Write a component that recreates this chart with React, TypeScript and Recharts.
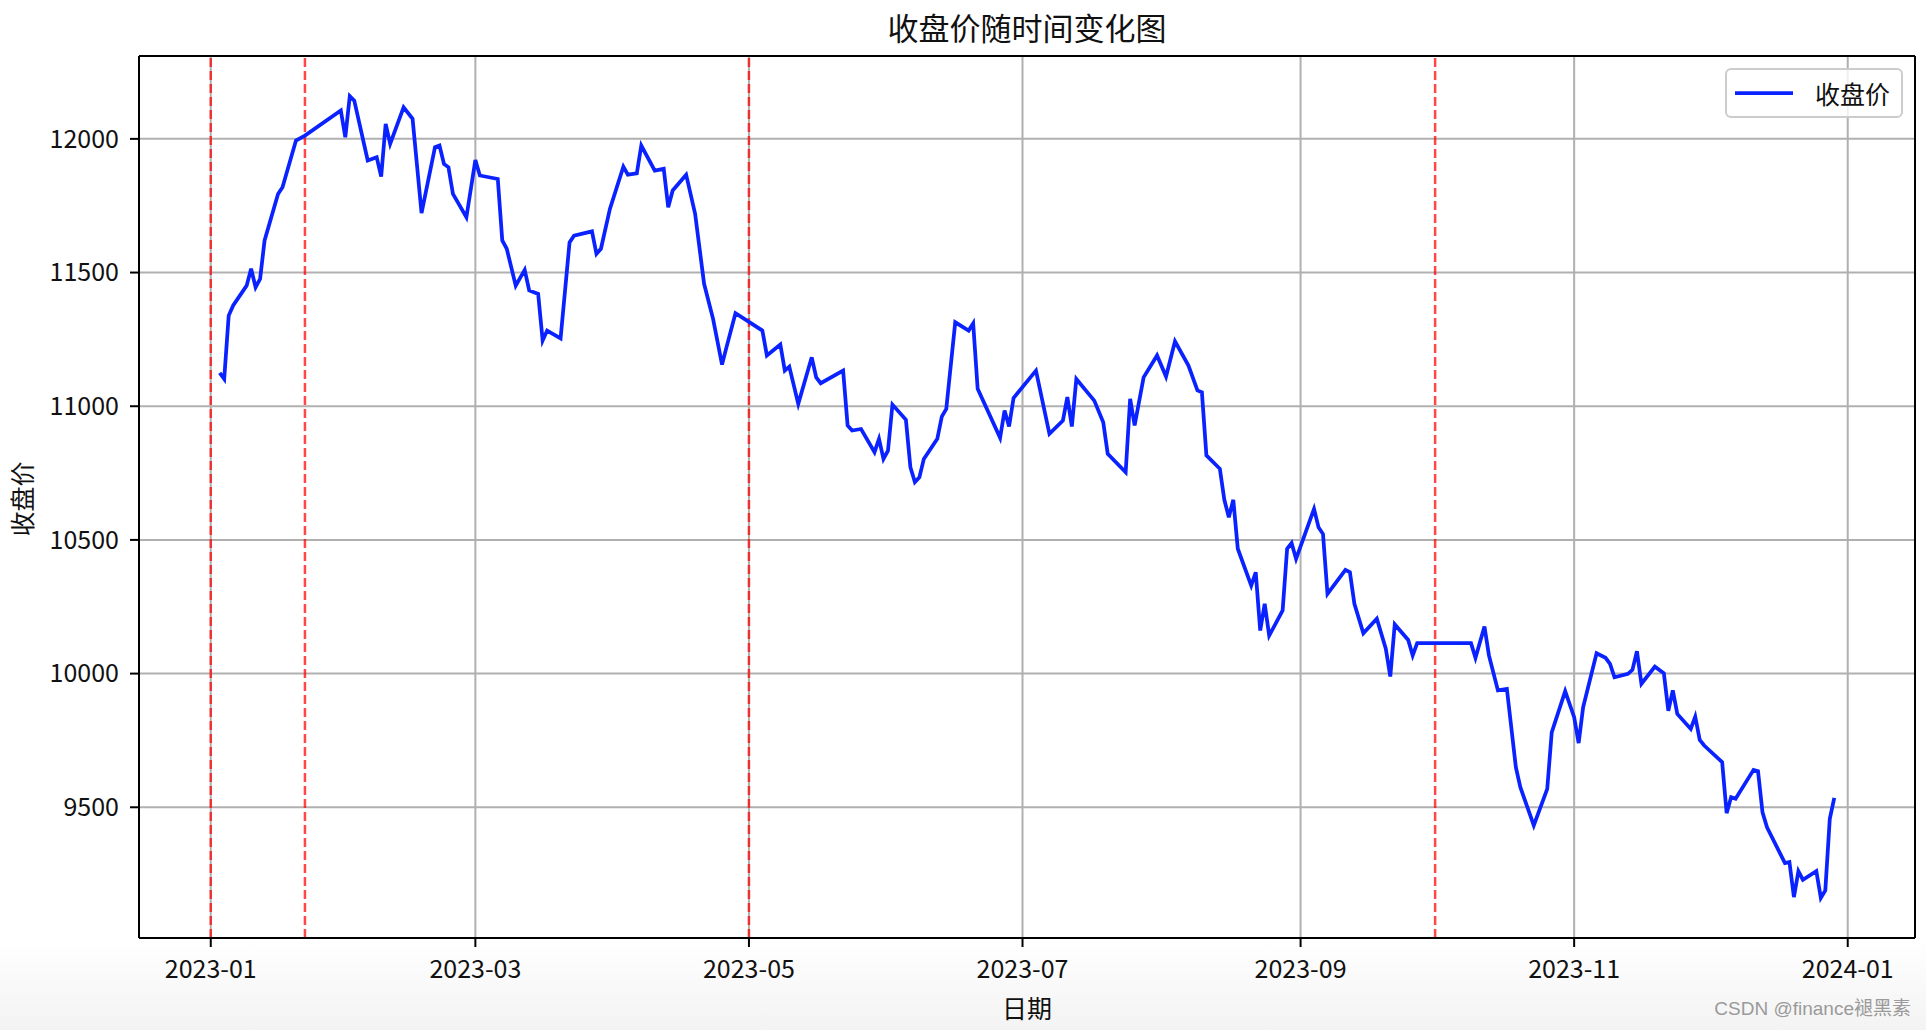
import React from 'react';
import { LineChart, Line, XAxis, YAxis, CartesianGrid, ReferenceLine, Legend } from 'recharts';

// ---- data ----
const dates = [
  '2023-01-03', '2023-01-04', '2023-01-05', '2023-01-06', '2023-01-09', '2023-01-10', '2023-01-11', '2023-01-12',
  '2023-01-13', '2023-01-16', '2023-01-17', '2023-01-20', '2023-01-22', '2023-01-30', '2023-01-31', '2023-02-01',
  '2023-02-02', '2023-02-05', '2023-02-07', '2023-02-08', '2023-02-09', '2023-02-10', '2023-02-13', '2023-02-15',
  '2023-02-17', '2023-02-20', '2023-02-21', '2023-02-22', '2023-02-23', '2023-02-24', '2023-02-27', '2023-03-01',
  '2023-03-02', '2023-03-06', '2023-03-07', '2023-03-08', '2023-03-10', '2023-03-12', '2023-03-13', '2023-03-15',
  '2023-03-16', '2023-03-17', '2023-03-20', '2023-03-21', '2023-03-22', '2023-03-23', '2023-03-27', '2023-03-28',
  '2023-03-29', '2023-03-31', '2023-04-03', '2023-04-04', '2023-04-06', '2023-04-07', '2023-04-10', '2023-04-12',
  '2023-04-13', '2023-04-14', '2023-04-17', '2023-04-19', '2023-04-21', '2023-04-23', '2023-04-25', '2023-04-26',
  '2023-04-28', '2023-05-04', '2023-05-05', '2023-05-08', '2023-05-09', '2023-05-10', '2023-05-12', '2023-05-15',
  '2023-05-16', '2023-05-17', '2023-05-22', '2023-05-23', '2023-05-24', '2023-05-26', '2023-05-29', '2023-05-30',
  '2023-05-31', '2023-06-01', '2023-06-02', '2023-06-05', '2023-06-06', '2023-06-07', '2023-06-08', '2023-06-09',
  '2023-06-12', '2023-06-13', '2023-06-14', '2023-06-16', '2023-06-19', '2023-06-20', '2023-06-21', '2023-06-26',
  '2023-06-27', '2023-06-28', '2023-06-29', '2023-07-04', '2023-07-07', '2023-07-10', '2023-07-11', '2023-07-12',
  '2023-07-13', '2023-07-17', '2023-07-19', '2023-07-20', '2023-07-24', '2023-07-25', '2023-07-26', '2023-07-28',
  '2023-07-31', '2023-08-02', '2023-08-04', '2023-08-07', '2023-08-09', '2023-08-10', '2023-08-11', '2023-08-14',
  '2023-08-15', '2023-08-16', '2023-08-17', '2023-08-18', '2023-08-21', '2023-08-22', '2023-08-23', '2023-08-24',
  '2023-08-25', '2023-08-28', '2023-08-29', '2023-08-30', '2023-08-31', '2023-09-04', '2023-09-05', '2023-09-06',
  '2023-09-07', '2023-09-11', '2023-09-12', '2023-09-13', '2023-09-15', '2023-09-18', '2023-09-20', '2023-09-21',
  '2023-09-22', '2023-09-25', '2023-09-26', '2023-09-27', '2023-10-09', '2023-10-10', '2023-10-12', '2023-10-13',
  '2023-10-15', '2023-10-17', '2023-10-19', '2023-10-20', '2023-10-23', '2023-10-26', '2023-10-27', '2023-10-30',
  '2023-11-01', '2023-11-02', '2023-11-03', '2023-11-06', '2023-11-08', '2023-11-09', '2023-11-10', '2023-11-13',
  '2023-11-14', '2023-11-15', '2023-11-16', '2023-11-19', '2023-11-21', '2023-11-22', '2023-11-23', '2023-11-24',
  '2023-11-27', '2023-11-28', '2023-11-29', '2023-11-30', '2023-12-04', '2023-12-05', '2023-12-06', '2023-12-07',
  '2023-12-11', '2023-12-12', '2023-12-13', '2023-12-14', '2023-12-18', '2023-12-19', '2023-12-20', '2023-12-21',
  '2023-12-22', '2023-12-25', '2023-12-26', '2023-12-27', '2023-12-28', '2023-12-29',
];

const closes = [
  11125, 11102, 11339, 11377, 11451, 11514, 11445, 11476,
  11620, 11794, 11819, 11994, 12012, 12106, 12006, 12160,
  12143, 11919, 11931, 11859, 12056, 11981, 12118, 12075,
  11722, 11969, 11975, 11906, 11894, 11794, 11707, 11921,
  11863, 11850, 11620, 11589, 11451, 11510, 11433, 11420,
  11246, 11283, 11254, 11433, 11613, 11638, 11654, 11570,
  11589, 11738, 11896, 11866, 11871, 11975, 11881, 11888,
  11744, 11807, 11866, 11720, 11458, 11327, 11156, 11221,
  11348, 11283, 11190, 11231, 11133, 11148, 11009, 11183,
  11108, 11086, 11133, 10928, 10909, 10915, 10828, 10878,
  10803, 10834, 11006, 10949, 10772, 10716, 10734, 10803,
  10878, 10961, 10990, 11314, 11283, 11310, 11065, 10882,
  10984, 10924, 11031, 11133, 10897, 10946, 11034, 10924,
  11102, 11021, 10940, 10822, 10753, 11028, 10928, 11108,
  11190, 11111, 11243, 11152, 11059, 11052, 10816, 10766,
  10650, 10585, 10650, 10467, 10329, 10379, 10161, 10261,
  10142, 10236, 10467, 10488, 10429, 10616, 10547, 10522,
  10298, 10388, 10379, 10261, 10151, 10205, 10093, 9989,
  10184, 10126, 10068, 10114, 10114, 10059, 10176, 10068,
  9937, 9943, 9650, 9575, 9432, 9569, 9780, 9934,
  9837, 9740, 9874, 10076, 10059, 10036, 9986, 9999,
  10014, 10084, 9962, 10026, 10001, 9861, 9937, 9849,
  9793, 9839, 9752, 9731, 9669, 9478, 9538, 9532,
  9640, 9635, 9481, 9425, 9291, 9295, 9164, 9261,
  9229, 9261, 9161, 9189, 9457, 9535,
];

// holiday markers (red dashed lines)
const eventDates = ['2023-01-01', '2023-01-22', '2023-05-01', '2023-10-01'];
const xTickLabels = ['2023-01', '2023-03', '2023-05', '2023-07', '2023-09', '2023-11', '2024-01'];
const yTicks = [9500, 10000, 10500, 11000, 11500, 12000];

const seriesName = '收盘价';
const titleText = '收盘价随时间变化图';
const xLabelText = '日期';
const yLabelText = '收盘价';
const watermarkText = 'CSDN @finance褪黑素';

// ---- helpers ----
const toTime = (s: string) => {
  const [y, m, d] = s.split('-').map(Number);
  return Date.UTC(y, m - 1, d || 1);
};

const data = dates.map((d, i) => ({ t: toTime(d), close: closes[i] }));
const xTicks = xTickLabels.map((s) => toTime(s));
const eventTimes = eventDates.map(toTime);

const tMin = data[0].t;
const tMax = data[data.length - 1].t;
const tPad = (tMax - tMin) * 0.05;
const xDomain: [number, number] = [tMin - tPad, tMax + tPad];

const vMin = Math.min(...closes);
const vMax = Math.max(...closes);
const vPad = (vMax - vMin) * 0.05;
const yDomain: [number, number] = [vMin - vPad, vMax + vPad];

const fmtMonth = (t: number) => {
  const d = new Date(t);
  return `${d.getUTCFullYear()}-${String(d.getUTCMonth() + 1).padStart(2, '0')}`;
};

const CJK = '"Noto Sans CJK SC", "Noto Sans", sans-serif';
const TICK_FONT = '"Noto Sans CJK SC", "Noto Sans", sans-serif';
const LINE_COLOR = '#0a22ff';

const LegendBox = () => (
  <div
    style={{
      boxSizing: 'border-box',
      width: 178,
      height: 50,
      border: '2px solid #cccccc',
      borderRadius: 6,
      background: 'rgba(255,255,255,0.8)',
      display: 'flex',
      alignItems: 'center',
      paddingLeft: 8,
    }}
  >
    <svg width={58} height={10} style={{ display: 'block' }}>
      <line x1={0} y1={5} x2={58} y2={5} stroke={LINE_COLOR} strokeWidth={3.75} />
    </svg>
    <span style={{ marginLeft: 22, fontFamily: CJK, fontSize: 25, lineHeight: '25px', color: '#111' }}>
      {seriesName}
    </span>
  </div>
);

export default function App() {
  return (
    <div
      style={{
        position: 'absolute',
        left: 0,
        top: 0,
        width: 1926,
        height: 1030,
        overflow: 'hidden',
        background: 'linear-gradient(to bottom, #ffffff 0px, #ffffff 940px, #f3f3f3 1030px)',
      }}
    >
      <LineChart
        width={1926}
        height={1030}
        data={data}
        margin={{ top: 56, right: 11, bottom: 32, left: 1 }}
      >
        <CartesianGrid stroke="#b0b0b0" strokeWidth={2} />
        <XAxis
          dataKey="t"
          type="number"
          domain={xDomain}
          ticks={xTicks}
          tickFormatter={fmtMonth}
          height={60}
          tickSize={9}
          tickMargin={13}
          axisLine={{ stroke: '#000', strokeWidth: 2 }}
          tickLine={{ stroke: '#000', strokeWidth: 2 }}
          tick={{ fill: '#111', fontSize: 25, fontFamily: TICK_FONT }}
          allowDataOverflow
        />
        <YAxis
          type="number"
          domain={yDomain}
          ticks={yTicks}
          width={138}
          tickSize={9}
          tickMargin={11}
          axisLine={{ stroke: '#000', strokeWidth: 2 }}
          tickLine={{ stroke: '#000', strokeWidth: 2 }}
          tick={{ fill: '#111', fontSize: 25, fontFamily: TICK_FONT }}
          allowDataOverflow
        />
        {eventTimes.map((t) => (
          <ReferenceLine
            key={t}
            x={t}
            stroke="rgba(255,0,0,0.72)"
            strokeWidth={2.5}
            strokeDasharray="9 4"
            ifOverflow="visible"
          />
        ))}
        <ReferenceLine y={yDomain[1]} stroke="#000" strokeWidth={2} ifOverflow="visible" />
        <ReferenceLine x={xDomain[1]} stroke="#000" strokeWidth={2} ifOverflow="visible" />
        <Line
          type="linear"
          dataKey="close"
          name={seriesName}
          stroke={LINE_COLOR}
          strokeWidth={3.75}
          dot={false}
          activeDot={false}
          isAnimationActive={false}
        />
        <Legend
          layout="horizontal"
          verticalAlign="middle"
          align="center"
          content={() => <LegendBox />}
          wrapperStyle={{ left: 1725, top: 68, width: 178, height: 50 }}
        />
      </LineChart>

      <div
        style={{
          position: 'absolute',
          left: 0,
          width: 2054,
          top: 11,
          textAlign: 'center',
          fontFamily: CJK,
          fontSize: 31,
          lineHeight: '31px',
          color: '#111',
        }}
      >
        {titleText}
      </div>
      <div
        style={{
          position: 'absolute',
          left: 0,
          width: 2054,
          top: 995,
          textAlign: 'center',
          fontFamily: CJK,
          fontSize: 25,
          lineHeight: '25px',
          color: '#111',
        }}
      >
        {xLabelText}
      </div>
      <div
        style={{
          position: 'absolute',
          left: 21 - 60,
          top: 499 - 15,
          width: 120,
          height: 30,
          lineHeight: '30px',
          textAlign: 'center',
          transform: 'rotate(-90deg)',
          fontFamily: CJK,
          fontSize: 25,
          color: '#111',
        }}
      >
        {yLabelText}
      </div>
      <div
        style={{
          position: 'absolute',
          right: 15,
          top: 998,
          fontFamily: '"Liberation Sans", "Noto Sans CJK SC", sans-serif',
          fontSize: 19,
          lineHeight: '22px',
          color: '#9a9a9a',
        }}
      >
        {watermarkText}
      </div>
    </div>
  );
}
